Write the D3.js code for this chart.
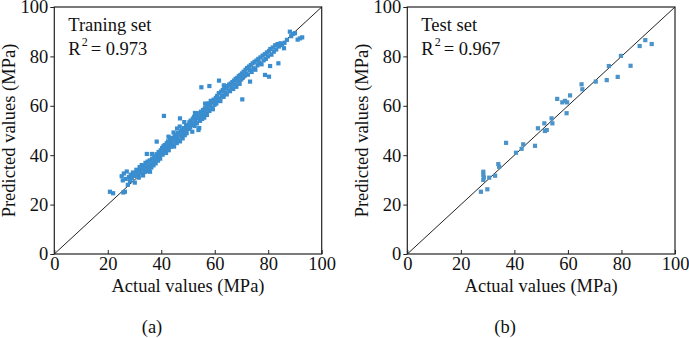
<!DOCTYPE html>
<html>
<head>
<meta charset="utf-8">
<script src="https://cdn.jsdelivr.net/npm/d3@7"></script>
<style>
  body { margin: 0; background: #fff; }
  svg text { font-family: "Times New Roman", "Liberation Serif", Tinos, Times, serif; fill: #111; }
</style>
</head>
<body>
<div id="chart"></div>
<script>
"use strict";
// axis ticks shared by both panels
const tickValues = [0, 20, 40, 60, 80, 100];

// training set: actual vs predicted (MPa)
const trainActual = [
  20.8, 22.0, 25.8, 26.4, 25.2, 25.6, 26.0, 26.7, 27.1, 27.5, 27.9, 28.3, 28.6, 29.0, 29.4, 29.8, 30.1,
  30.4, 30.7, 31.0, 31.3, 31.6, 31.9, 32.1, 32.4, 32.7, 33.0, 33.2, 33.5, 33.8, 34.1, 34.3, 34.6, 34.9, 35.1, 35.4, 35.7,
  35.8, 36.0, 36.3, 36.6, 36.9, 37.1, 37.4, 37.7, 37.9, 38.2, 38.3, 38.5, 38.8, 39.0, 39.3, 39.6, 39.8, 36.5, 34.6,
  40.1, 40.3, 40.5, 40.8, 41.0, 41.1, 41.3, 41.6, 41.8, 42.0, 42.3, 42.5, 42.8, 43.0, 43.3, 43.5, 43.8, 44.0, 44.3, 44.5,
  44.8, 45.0, 45.3, 45.5, 45.8, 46.0, 46.3, 46.5, 46.8, 47.0, 47.3, 47.5, 47.8, 48.0, 48.3, 48.5, 48.8, 49.0, 49.3, 49.5,
  49.8, 42.7, 44.6, 46.9, 47.0, 45.9, 48.6,
  50.0, 50.3, 50.5, 50.8, 51.0, 51.3, 51.6, 51.8, 52.0, 52.3, 52.5, 52.8, 53.0, 53.3, 53.5, 53.9, 54.0, 54.2, 54.3, 54.5,
  54.8, 55.0, 55.1, 55.3, 55.6, 55.8, 56.1, 56.3, 56.6, 56.9, 57.1, 57.4, 57.7, 58.0, 58.0, 58.2, 58.5, 58.8, 59.0, 59.3,
  59.6, 59.9, 52.6, 56.4,
  60.1, 60.4, 60.6, 60.9, 61.2, 61.5, 61.6, 61.8, 62.1, 62.4, 62.7, 63.0, 63.3, 63.6, 63.9, 64.2, 64.5, 64.8, 65.1, 65.4,
  65.7, 66.0, 66.3, 66.6, 66.9, 67.2, 67.5, 67.8, 68.1, 68.4, 68.7, 69.0, 69.3, 69.6, 69.9, 70.3, 63.4,
  70.2, 70.5, 70.8, 71.1, 71.5, 71.8, 72.1, 72.4, 72.8, 73.2, 73.1, 73.5, 73.8, 74.2, 74.5, 74.9, 75.2, 75.6, 76.0, 76.3,
  76.7, 77.1, 77.5, 77.9, 78.3, 78.8, 78.7, 79.1, 79.5, 79.9,
  80.3, 80.3, 80.7, 80.8, 81.2, 81.7, 82.1, 82.6, 83.0, 83.5, 83.8, 84.0, 84.6, 85.2, 85.9, 86.1, 87.0, 88.1, 88.6, 89.3,
  90.0, 91.0, 91.9, 92.7
];
const trainPredicted = [
  25.2, 24.6, 24.9, 25.2, 31.5, 29.8, 32.6, 30.4, 33.4, 28.0, 31.2, 29.5, 32.1, 30.7, 33.0, 31.6, 28.9,
  32.8, 34.1, 31.9, 33.5, 30.9, 35.2, 33.8, 32.6, 36.0, 34.4, 31.8, 35.6, 33.2, 36.9, 34.7, 33.5, 37.4, 35.8, 34.2, 37.9,
  33.3, 36.3, 35.0, 38.6, 37.1, 35.9, 39.5, 38.0, 36.7, 40.4, 45.5, 39.1, 37.8, 41.3, 39.8, 38.6, 42.0, 40.5, 40.5,
  41.0, 42.9, 40.2, 43.6, 55.9, 41.8, 44.1, 42.5, 40.9, 44.8, 43.2, 45.6, 42.0, 44.3, 46.4, 43.4, 45.1, 47.0, 44.2, 46.1,
  43.5, 47.6, 45.9, 48.3, 44.9, 47.2, 49.0, 46.1, 48.4, 45.6, 49.7, 47.9, 50.3, 46.8, 49.2, 51.0, 48.1, 50.5, 52.2, 48.9,
  51.4, 47.5, 49.2, 51.6, 54.9, 50.8, 53.4,
  52.0, 50.6, 53.3, 51.2, 54.0, 52.4, 49.5, 54.8, 53.1, 55.5, 51.8, 54.3, 56.2, 52.9, 55.0, 50.2, 57.0, 51.0, 55.4, 53.9,
  57.6, 67.5, 56.1, 54.7, 58.3, 56.6, 55.2, 59.0, 57.4, 60.1, 56.3, 58.8, 61.0, 68.0, 57.9, 60.2, 62.0, 59.1, 61.3, 58.6,
  62.5, 60.4, 57.1, 60.9,
  61.9, 63.2, 60.9, 64.0, 62.4, 65.1, 70.2, 63.0, 61.9, 65.7, 64.0, 66.4, 63.6, 66.9, 65.2, 67.4, 64.6, 68.0, 66.3, 68.6,
  65.9, 69.0, 67.5, 69.6, 66.8, 70.2, 68.6, 70.9, 67.7, 71.3, 69.8, 72.0, 68.9, 72.5, 70.7, 62.6, 68.3,
  73.1, 71.4, 73.8, 72.0, 74.6, 73.0, 75.3, 72.6, 75.9, 69.8, 74.4, 76.5, 73.7, 77.2, 75.2, 77.8, 74.6, 78.3, 76.4, 79.0,
  77.5, 79.6, 76.8, 80.3, 78.4, 72.5, 80.9, 79.0, 81.6, 80.0,
  71.8, 82.2, 76.1, 83.0, 80.7, 83.6, 81.9, 84.5, 82.8, 85.0, 77.2, 84.0, 85.3, 84.6, 83.3, 85.5, 86.7, 90.0, 88.2, 89.1,
  89.4, 86.8, 87.3, 87.7
];

// test set
const testActual = [
  27.5, 28.4, 28.4, 28.4, 28.6, 29.9, 30.6, 32.8, 34.0, 34.3, 36.9, 40.6, 42.7, 43.3, 47.7, 48.8, 51.2, 51.4, 52.1,
  53.9, 54.2, 56.0, 57.9, 58.9, 59.7, 59.5, 60.8, 65.1, 65.4, 70.4, 74.5, 75.3, 78.6, 79.8, 83.4, 86.8, 88.9, 91.3
];
const testPredicted = [
  25.2, 33.3, 32.0, 30.0, 31.0, 26.2, 30.9, 31.7, 36.4, 35.3, 45.0, 41.0, 42.6, 44.4, 43.8, 50.9, 52.9, 49.8, 50.2,
  54.9, 52.9, 62.8, 61.4, 62.0, 61.4, 57.0, 64.2, 68.7, 66.7, 69.8, 70.4, 76.1, 71.7, 80.2, 76.2, 84.2, 86.6, 85.0
];

const panels = [
  { x0: 54.3, x1: 321.7, title: "Traning set", r2: "0.973", tag: "(a)", xs: trainActual, ys: trainPredicted, color: "#3a8ecf" },
  { x0: 407.3, x1: 675, title: "Test set", r2: "0.967", tag: "(b)", xs: testActual, ys: testPredicted, color: "#4b93c8" }
];
const yTop = 7, yBottom = 254;
const fs = 18.5;

const svg = d3.select("#chart").append("svg")
  .attr("width", 689)
  .attr("height", 338);

panels.forEach(p => {
  const x = d3.scaleLinear().domain([0, 100]).range([p.x0, p.x1]);
  const y = d3.scaleLinear().domain([0, 100]).range([yBottom, yTop]);
  const g = svg.append("g");

  // diagonal reference line
  g.append("line")
    .attr("x1", x(0)).attr("y1", y(0))
    .attr("x2", x(100)).attr("y2", y(100))
    .attr("stroke", "#222").attr("stroke-width", 1);

  // points
  const pts = d3.zip(p.xs, p.ys);
  g.selectAll("rect.pt").data(pts).enter().append("rect")
    .attr("class", "pt")
    .attr("x", d => x(d[0]) - 2.1)
    .attr("y", d => y(d[1]) - 2.1)
    .attr("width", 4.2).attr("height", 4.2)
    .attr("fill", p.color);

  // axes
  const xAxis = g.append("g").attr("transform", `translate(0,${yBottom})`)
    .call(d3.axisBottom(x).tickValues(tickValues).tickSize(-4).tickPadding(3));
  const yAxis = g.append("g").attr("transform", `translate(${p.x0},0)`)
    .call(d3.axisLeft(y).tickValues(tickValues).tickSize(4).tickPadding(2));
  [xAxis, yAxis].forEach(a => {
    a.select(".domain").remove();
    a.selectAll("line").attr("stroke", "#222");
    a.selectAll("text").attr("font-size", fs).attr("fill", "#111");
  });

  // frame
  g.append("rect")
    .attr("x", p.x0).attr("y", yTop)
    .attr("width", p.x1 - p.x0).attr("height", yBottom - yTop)
    .attr("fill", "none").attr("stroke", "#222").attr("stroke-width", 1.2);

  // labels
  g.append("text")
    .attr("x", (p.x0 + p.x1) / 2).attr("y", 292)
    .attr("text-anchor", "middle").attr("font-size", fs)
    .text("Actual values (MPa)");
  g.append("text")
    .attr("transform", `translate(${p.x0 - 39},${(yTop + yBottom) / 2}) rotate(-90)`)
    .attr("text-anchor", "middle").attr("font-size", fs)
    .text("Predicted values (MPa)");
  g.append("text")
    .attr("x", (p.x0 + p.x1) / 2 - 36).attr("y", 333)
    .attr("text-anchor", "middle").attr("font-size", fs)
    .text(p.tag);

  g.append("text")
    .attr("x", p.x0 + 14).attr("y", 31).attr("font-size", fs)
    .text(p.title);
  const r = g.append("text")
    .attr("x", p.x0 + 14).attr("y", 55).attr("font-size", fs);
  r.append("tspan").text("R");
  r.append("tspan").attr("font-size", 12).attr("dy", -9).attr("dx", 1).text("2");
  r.append("tspan").attr("dy", 9).attr("dx", 3).text("= " + p.r2);
});
</script>
</body>
</html>
